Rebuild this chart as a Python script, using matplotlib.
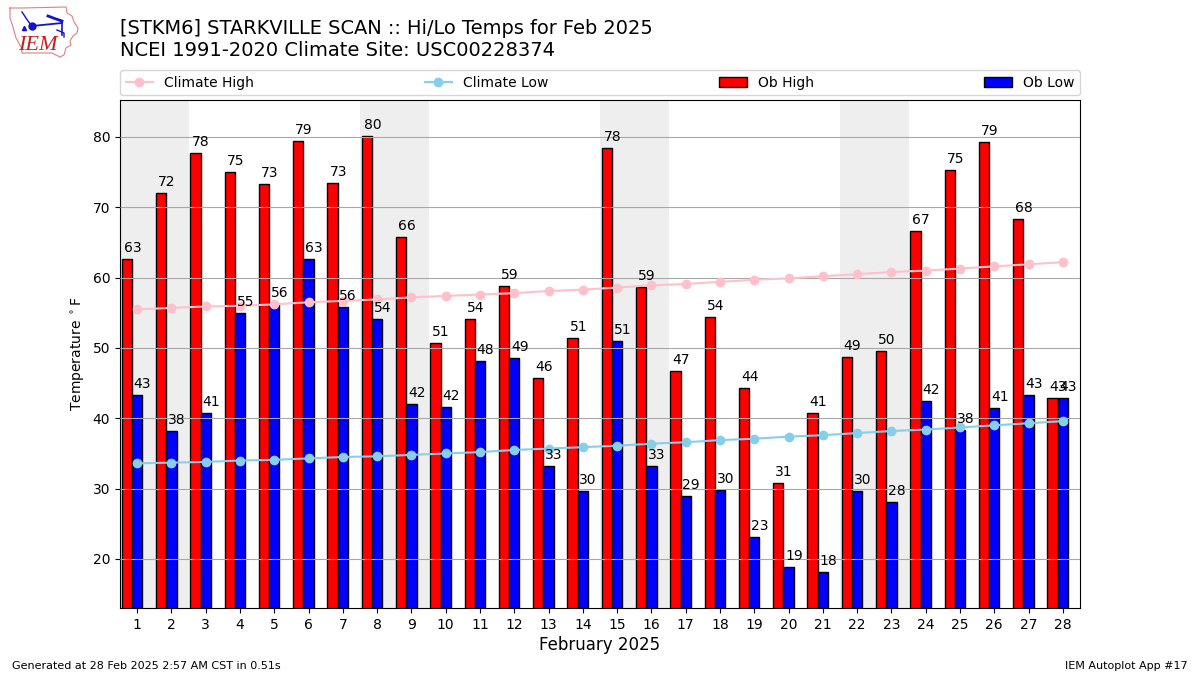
import numpy as np
import matplotlib
matplotlib.use('Agg')
import matplotlib.pyplot as plt

days = list(range(1, 29))
ob_high = [62.65, 72.0, 77.7, 75.0, 73.3, 79.4, 73.5, 80.1, 65.8, 50.7, 54.1, 58.8, 45.7, 51.4,
           78.4, 58.7, 46.7, 54.4, 44.3, 30.8, 40.8, 48.7, 49.6, 66.6, 75.3, 79.3, 68.3, 42.9]
ob_low = [43.3, 38.2, 40.8, 55.0, 56.3, 62.65, 55.8, 54.1, 42.0, 41.6, 48.1, 48.6, 33.2, 29.7,
          51.0, 33.2, 29.0, 29.8, 23.1, 18.9, 18.1, 29.7, 28.1, 42.5, 38.3, 41.5, 43.3, 42.9]
high_labels = [63, 72, 78, 75, 73, 79, 73, 80, 66, 51, 54, 59, 46, 51,
               78, 59, 47, 54, 44, 31, 41, 49, 50, 67, 75, 79, 68, 43]
low_labels = [43, 38, 41, 55, 56, 63, 56, 54, 42, 42, 48, 49, 33, 30,
              51, 33, 29, 30, 23, 19, 18, 30, 28, 42, 38, 41, 43, 43]
climate_high = [55.5, 55.7, 55.9, 56.0, 56.2, 56.5, 56.7, 56.9, 57.2, 57.4, 57.6, 57.8, 58.1, 58.3,
                58.6, 58.9, 59.1, 59.4, 59.7, 59.9, 60.2, 60.5, 60.8, 61.0, 61.3, 61.6, 61.9, 62.2]
climate_low = [33.6, 33.7, 33.8, 34.0, 34.1, 34.3, 34.5, 34.6, 34.8, 35.0, 35.2, 35.5, 35.7, 35.9,
               36.1, 36.4, 36.6, 36.9, 37.1, 37.4, 37.6, 37.9, 38.2, 38.4, 38.7, 39.0, 39.3, 39.6]
weekends = [(0.5, 2.5), (7.5, 9.5), (14.5, 16.5), (21.5, 23.5)]

W, H = 1200, 675
fig = plt.figure(figsize=(12, 6.75), dpi=100)
ax = fig.add_axes([120 / W, 1 - 608 / H, 960 / W, 508 / H])

x = np.array(days)
width = 0.3

for start, end in weekends:
    ax.axvspan(start, end, color='#eeeeee', lw=0, zorder=0)

# the low bar is centred on the day, the high bar sits to its left
ax.bar(x - width, ob_high, width, color='r', edgecolor='k', label='Ob High', zorder=1.5)
ax.bar(x, ob_low, width, color='b', edgecolor='k', label='Ob Low', zorder=1.5)
ax.grid(axis='y', color='#a8a8a8', lw=0.8, zorder=1.7)
ax.set_axisbelow(False)

ax.plot(x, climate_high, color='pink', marker='o', label='Climate High', zorder=3)
ax.plot(x, climate_low, color='skyblue', marker='o', label='Climate Low', zorder=3)

for d, v, lab in zip(x, ob_high, high_labels):
    ax.text(d - 0.39, v + 0.55, str(lab), ha='left', va='bottom', fontsize=10, zorder=4)
for d, v, lab in zip(x, ob_low, low_labels):
    ax.text(d - 0.1, v + 0.55, str(lab), ha='left', va='bottom', fontsize=10, zorder=4)

ax.set_xlim(0.5, 28.5)
ax.set_ylim(13.03, 85.26)
ax.set_xticks(days)
ax.set_yticks(range(20, 81, 10))
ax.set_xlabel('February 2025', fontsize=12, labelpad=3)
ax.set_ylabel('Temperature $^\\circ$F')

handles, labels = ax.get_legend_handles_labels()
order = [labels.index(n) for n in ['Climate High', 'Climate Low', 'Ob High', 'Ob Low']]
ax.legend([handles[i] for i in order], [labels[i] for i in order], ncol=4, mode='expand',
          loc='lower left', bbox_to_anchor=(0, 1.009, 1, 0.05), borderaxespad=0, fontsize=10)

fig.text(120 / W, 1 - 29 / H, '[STKM6] STARKVILLE SCAN :: Hi/Lo Temps for Feb 2025', fontsize=13.97, va='center')
fig.text(120 / W, 1 - 50 / H, 'NCEI 1991-2020 Climate Site: USC00228374', fontsize=14, va='center')
fig.text(12 / W, 1 - 666 / H, 'Generated at 28 Feb 2025 2:57 AM CST in 0.51s', fontsize=8, va='center')
fig.text(1188 / W, 1 - 666 / H, 'IEM Autoplot App #17', fontsize=8, va='center', ha='right')

# IEM logo, drawn in pixel coordinates
logo = fig.add_axes([0, 1 - 65 / H, 110 / W, 65 / H])
logo.set_xlim(0, 110)
logo.set_ylim(65, 0)
logo.axis('off')
logo.plot([10, 22, 66, 67, 72, 74, 78, 77, 73, 70, 71, 66, 64, 60, 52, 22, 21, 16, 13, 10, 10],
          [8, 8, 7, 13, 16, 22, 28, 33, 36, 41, 45, 48, 55, 57, 53, 53, 47, 38, 27, 18, 8],
          color='#e08080', lw=0.8)
logo.plot([32, 62], [26, 23], color='#1414c8', lw=1.3)
logo.plot([62, 62], [22, 35], color='#1414c8', lw=1.2)
logo.plot([22, 28, 31], [12, 21, 25], color='#1414c8', lw=1)
logo.plot([48, 56, 62], [16, 19, 21], color='#1414c8', lw=2)
logo.plot([57, 64, 64], [30, 33, 37], color='#1414c8', lw=1)
logo.plot([32], [26], marker='o', ms=5, color='#1414c8')
logo.plot([24], [28], marker='^', ms=3, color='#1414c8')
logo.text(38, 45, 'IEM', color='#c81e1e', family='Liberation Serif', style='italic',
          fontsize=16, ha='center', va='center')

fig.savefig('out.png', dpi=100)
